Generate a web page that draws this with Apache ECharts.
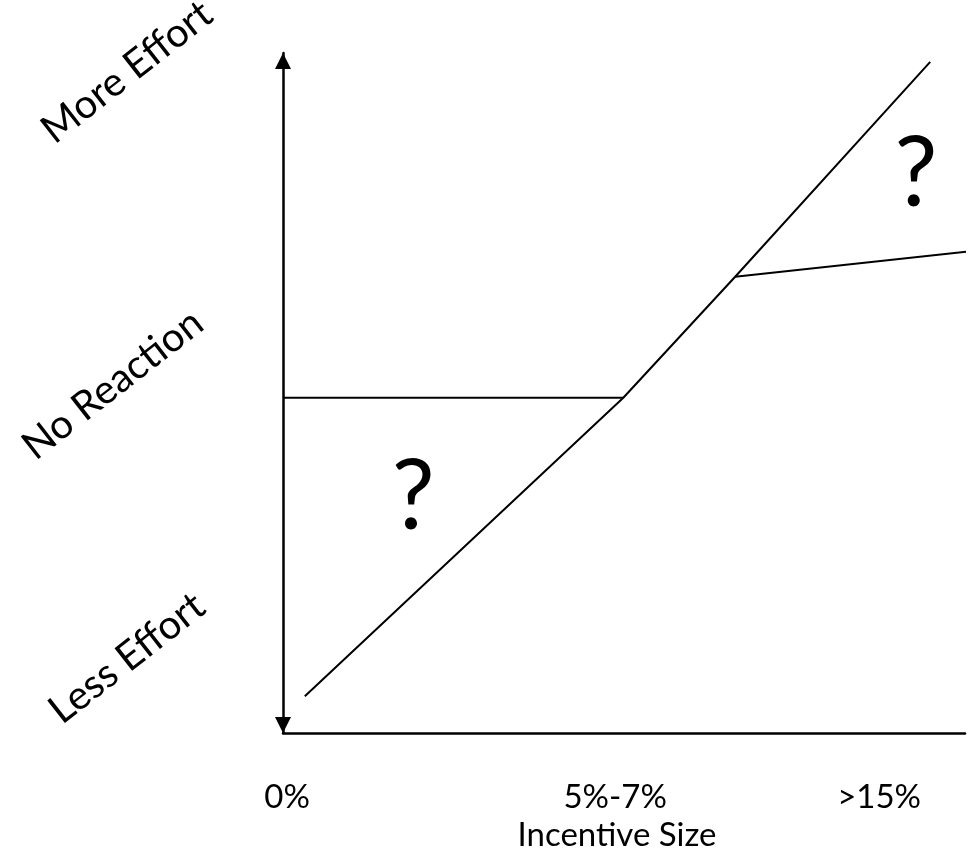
<!DOCTYPE html>
<html>
<head>
<meta charset="utf-8">
<script src="https://cdn.jsdelivr.net/npm/echarts@6/dist/echarts.min.js"></script>
<style>
html,body{margin:0;padding:0;background:#fff;}
#chart{width:977px;height:848px;}
</style>
</head>
<body>
<div id="chart"></div>
<script>
// Axis labels
const xLabels = ['0%', '5%-7%', '>15%'];
const xLabelPos = [0.6, 48.7, 87.4];
const yLabels = ['Less Effort', 'No Reaction', 'More Effort'];
const yLabelPos = [11.0, 52.9, 97.2];
const xTitle = 'Incentive Size';

// Conceptual lines (x: incentive scale 0-100, y: effort scale 0-100)
const risingLine = [[3.2, 5.4], [49.9, 49.3], [66.3, 67.1], [94.9, 98.7]];
const noReactionLine = [[0, 49.3], [49.9, 49.3]];
const plateauLine = [[66.3, 67.1], [101.2, 70.9]];
const questionMarks = [[19.1, 34.6], [92.8, 82.1]];

const font = 'Lato, "Open Sans", sans-serif';
const chart = echarts.init(document.getElementById('chart'));
const lineStyle = { color: '#000', width: 2 };
const yText = { color: '#000', fontSize: 40, fontFamily: font };

chart.setOption({
  animation: false,
  backgroundColor: '#fff',
  grid: { left: 283, right: 12, top: 53, bottom: 115, containLabel: false, outerBoundsMode: 'none' },
  xAxis: {
    type: 'value', min: 0, max: 100,
    splitLine: { show: false },
    axisTick: { show: false },
    axisLine: { show: true, onZero: false, lineStyle: { color: '#000', width: 2.5 } },
    axisLabel: {
      customValues: xLabelPos,
      formatter: (v) => xLabels[xLabelPos.indexOf(v)],
      color: '#000', fontSize: 33, fontFamily: font,
      verticalAlign: 'middle', margin: 64
    },
    name: xTitle, nameLocation: 'middle', nameGap: 66,
    nameTextStyle: { color: '#000', fontSize: 33, fontFamily: font, padding: [0, 14, 0, 0] }
  },
  yAxis: {
    type: 'value', min: 0, max: 100,
    splitLine: { show: false },
    axisTick: { show: false },
    axisLine: {
      show: true, onZero: false,
      lineStyle: { color: '#000', width: 2.5 },
      symbol: ['triangle', 'triangle'], symbolSize: [16, 16], symbolOffset: [8, -8]
    },
    axisLabel: {
      customValues: yLabelPos,
      formatter: (v) => {
        const i = yLabelPos.indexOf(v);
        return (i === 1 ? '{n|' : '{d|') + yLabels[i] + '}';
      },
      rich: {
        d: Object.assign({}, yText),
        n: Object.assign({ padding: [0, 36, 0, 0] }, yText)
      },
      color: '#000', fontSize: 40, fontFamily: font,
      rotate: 38, align: 'center', verticalAlign: 'middle', margin: 156
    }
  },
  series: [
    { type: 'line', data: risingLine, symbol: 'none', lineStyle, clip: false, silent: true },
    { type: 'line', data: noReactionLine, symbol: 'none', lineStyle, clip: false, silent: true },
    { type: 'line', data: plateauLine, symbol: 'none', lineStyle, clip: false, silent: true },
    {
      type: 'scatter', data: questionMarks, symbolSize: 0, clip: false, silent: true,
      itemStyle: { color: '#000', opacity: 1 },
      label: { show: true, position: 'inside', formatter: '?', color: '#000', opacity: 1, fontSize: 96, fontFamily: font }
    }
  ]
});
</script>
</body>
</html>
